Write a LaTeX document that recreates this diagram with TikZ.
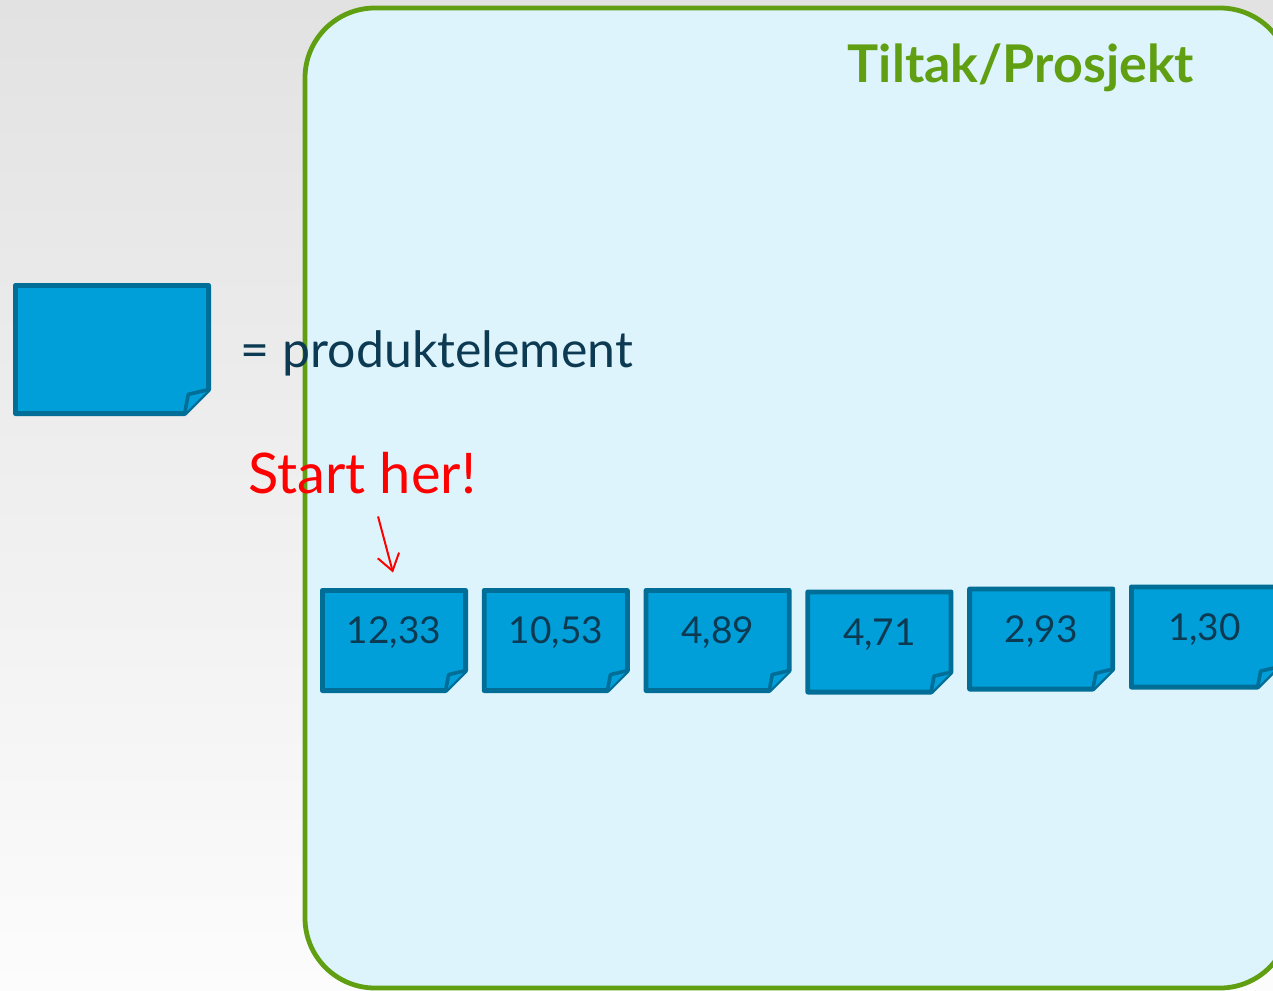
\documentclass[tikz,border=0pt]{standalone}
\usepackage{fontspec}
\setmainfont{Lato}
\usetikzlibrary{arrows.meta,positioning}
\definecolor{bgtop}{RGB}{226,226,226}
\definecolor{bgbot}{RGB}{252,252,252}
\definecolor{projgreen}{RGB}{96,158,18}
\definecolor{projfill}{RGB}{221,244,252}
\definecolor{cardfill}{RGB}{0,159,217}
\definecolor{cardline}{RGB}{0,110,150}
\definecolor{cardtext}{RGB}{12,58,82}
\definecolor{herred}{RGB}{255,0,0}

\begin{document}
\begin{tikzpicture}[x=0.5pt,y=-0.5pt,
ear/.store in=\earsize,ear=10pt,
card/.style={minimum width=74pt,minimum height=52.5pt,inner sep=0pt,text=cardtext,
  font=\fontsize{18.5}{20}\selectfont,text height=13pt,text depth=10pt,
  path picture={
    \draw[line width=2.4pt,draw=cardline,fill=cardfill,line join=round]
      ([shift={(1.2pt,-1.2pt)}]path picture bounding box.north west)
      -- ([shift={(-1.2pt,-1.2pt)}]path picture bounding box.north east)
      -- ([shift={(-1.2pt,1.2pt+\earsize)}]path picture bounding box.south east)
      -- ([shift={(-1.2pt-\earsize,1.2pt)}]path picture bounding box.south east)
      -- ([shift={(1.2pt,1.2pt)}]path picture bounding box.south west) -- cycle;
    \draw[line width=1.8pt,draw=cardline,fill=cardfill,line join=round]
      ([shift={(-1.2pt-\earsize,1.2pt)}]path picture bounding box.south east)
      -- ([shift={(-1.2pt-0.85*\earsize,1.2pt+0.8*\earsize)}]path picture bounding box.south east)
      -- ([shift={(-1.2pt,1.2pt+\earsize)}]path picture bounding box.south east);
  }},
frame/.style={draw=projgreen,fill=projfill,line width=2.4pt,rounded corners=35pt,
  minimum width=492.5pt,minimum height=490pt,inner sep=0pt},
title/.style={text=projgreen,font=\bfseries\fontsize{26}{30}\selectfont,inner sep=0pt},
legtext/.style={text=cardtext,font=\fontsize{25}{30}\selectfont,inner sep=0pt},
starttext/.style={text=herred,font=\fontsize{28}{32}\selectfont,inner sep=0pt},
redarr/.style={draw=herred,line width=1pt,-{Straight Barb[length=8pt,width=11pt]}},
node distance=6.5pt]
\useasboundingbox (0,0) rectangle (1273,990);
\shade[top color=bgtop,bottom color=bgbot] (0,0) rectangle (1273,990);
\node[frame] (proj) at (797.5,498) {};
\node[title,anchor=base east] (tit) at ([shift={(-49pt,-38.5pt)}]proj.north east) {Tiltak/Prosjekt};
% legend
\node[card,ear=12pt,minimum width=99pt,minimum height=66.5pt] (legend) at (112,349.5) {};
\node[legtext,right=14.5pt of legend,yshift=-2pt] (legtxt) {= produktelement};
% row of product elements
\node[card] (c1) at (394,640.5) {12,33};
\node[card,right=of c1] (c2) {10,53};
\node[card,right=of c2] (c3) {4,89};
\node[card,right=of c3,yshift=-0.75pt] (c4) {4,71};
\node[card,right=of c4,yshift=1.5pt] (c5) {2,93};
\node[card,right=of c5,yshift=1pt,minimum width=75.5pt] (c6) {1,30};
\node[starttext,anchor=base west] (start) at ([shift={(-36pt,47pt)}]c1.north west) {Start her!};
\draw[redarr] ([shift={(8pt,-11pt)}]start.south) -- ([shift={(-0.5pt,7.5pt)}]c1.north);
\end{tikzpicture}
\end{document}
